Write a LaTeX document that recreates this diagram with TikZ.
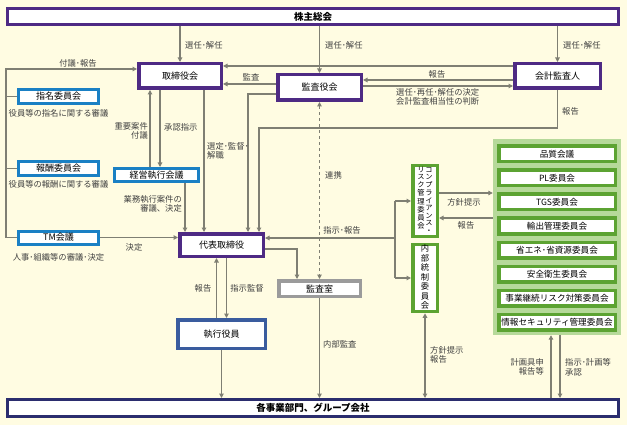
\documentclass[tikz,border=0pt]{standalone}
\usepackage{fontspec}
\setmainfont{Noto Sans CJK JP}
\newfontfamily\tatefont[RawFeature=+vert]{Noto Sans CJK JP}
\usetikzlibrary{arrows.meta}
\definecolor{bgc}{HTML}{FFFCE2}
\definecolor{purp}{HTML}{4E2A84}
\definecolor{cyanb}{HTML}{1A80C4}
\definecolor{syb}{HTML}{3A5C9E}
\definecolor{navy}{HTML}{2B2D6E}
\definecolor{grn}{HTML}{5CA332}
\definecolor{lgrn}{HTML}{B6D99A}
\definecolor{grayb}{HTML}{9B9B9B}
\definecolor{arr}{HTML}{7F7F73}
\definecolor{labc}{HTML}{404040}
\newcommand{\tatecol}[1]{\begin{tabular}[t]{@{}c@{}}#1\end{tabular}}
\begin{document}
\begin{tikzpicture}[x=1pt,y=-1pt,
  conn/.style={draw=arr, line width=1.1pt, -{Triangle[length=4.5pt,width=4.5pt]}},
  bconn/.style={draw=arr, line width=1.1pt, {Triangle[length=4.5pt,width=4.5pt]}-{Triangle[length=4.5pt,width=4.5pt]}},
  lab/.style={font=\fontsize{8.3}{9.8}\selectfont, text=labc, inner sep=0pt},
  bx/.style={draw, fill=white, inner sep=0pt, font=\fontsize{9}{10}\selectfont, text=black},
  pbox/.style={bx, draw=purp, line width=3.5pt},
  cbox/.style={bx, draw=cyanb, line width=3pt},
  gbox/.style={bx, draw=grn, line width=3.5pt, font=\fontsize{8.6}{10}\selectfont},
  sz/.style 2 args={minimum width=#1pt, minimum height=#2pt},
]
\fill[bgc] (0,0) rectangle (627,425);

% main boxes
\node[bx, draw=purp, line width=3pt, sz={611}{16}, font=\fontsize{9.5}{10}\selectfont\bfseries] (sh) at (313,16.5) {株主総会};
\node[pbox, sz={82.5}{24.5}] (tb) at (180,76) {取締役会};
\node[pbox, sz={83.5}{25.5}] (ka) at (319.5,87.5) {監査役会};
\node[pbox, sz={85.5}{24.5}] (kk) at (557.5,76) {会計監査人};
\node[pbox, sz={83.5}{22.5}] (dh) at (221.5,245) {代表取締役};
\node[bx, draw=grayb, line width=3.5pt, sz={81.5}{15.5}] (ks) at (319.5,288.5) {監査室};
\node[bx, draw=syb, line width=3.5pt, sz={87.5}{28.5}] (sy) at (221.5,334) {執行役員};
\node[bx, draw=navy, line width=3pt, sz={611}{17}, font=\fontsize{9.5}{10}\selectfont\bfseries] (kb) at (313,408) {各事業部門、グループ会社};

% blue committees
\node[cbox, sz={80}{14}] (sm) at (58.5,96.5) {指名委員会};
\node[cbox, sz={80}{14}] (hs) at (58.5,168.5) {報酬委員会};
\node[cbox, sz={80}{13}] (tm) at (58.5,237.5) {TM会議};
\node[cbox, sz={84}{13}] (kg) at (156.5,175) {経営執行会議};
\node[lab] (smL) at (58.5,113) {役員等の指名に関する審議};
\node[lab] (hsL) at (58.5,184) {役員等の報酬に関する審議};
\node[lab] (tmL) at (58.5,257) {人事･組織等の審議･決定};

% green vertical committees
\node[bx, draw=grn, line width=3.5pt, sz={24.5}{70.5}, font=\tatefont\fontsize{7.3}{7.45}\selectfont] (cr) at (425,201)
  {\tatecol{リ\\ス\\ク\\管\\理\\委\\員\\会}\hspace{0.8pt}\tatecol{コ\\ン\\プ\\ラ\\イ\\ア\\ン\\ス\\・}};
\node[bx, draw=grn, line width=3.5pt, sz={24.5}{66.5}, font=\tatefont\fontsize{8.3}{8.9}\selectfont] (nt) at (425,278)
  {\tatecol{内\\部\\統\\制\\委\\員\\会}};

% green group
\node[fill=lgrn, inner sep=0pt, sz={128}{196}] (grp) at (557,237) {};
\node[gbox, sz={116.5}{15.5}] (g1) at (557,154) {品質会議};
\node[gbox, sz={116.5}{15.5}] (g2) at (557,178) {PL委員会};
\node[gbox, sz={116.5}{15.5}] (g3) at (557,202) {TGS委員会};
\node[gbox, sz={116.5}{15.5}] (g4) at (557,226) {輸出管理委員会};
\node[gbox, sz={116.5}{15.5}] (g5) at (557,250) {省エネ･省資源委員会};
\node[gbox, sz={116.5}{15.5}] (g6) at (557,274) {安全衛生委員会};
\node[gbox, sz={116.5}{15.5}] (g7) at (557,298) {事業継続リスク対策委員会};
\node[gbox, sz={116.5}{15.5}] (g8) at (557,322) {情報セキュリティ管理委員会};

% helper coordinates
\coordinate (L1) at (6,69);
\coordinate (xa) at (204,0);
\coordinate (x150) at (150,0);
\coordinate (x160) at (160,0);
\coordinate (x185) at (185,0);
\coordinate (x216) at (216.5,0);
\coordinate (x226) at (226.5,0);
\coordinate (x551) at (551,0);
\coordinate (x560) at (560,0);
\coordinate (k1) at (248,94);
\coordinate (k2) at (259,128);
\coordinate (k3) at (297,249);
\coordinate (br) at (395,238);
\coordinate (y66) at (0,66);
\coordinate (y80) at (0,80);
\coordinate (y84) at (0,84);
\coordinate (y86) at (0,86);
\coordinate (y193) at (0,193);
\coordinate (y218) at (0,218);

% shareholders
\draw[conn] (tb.north |- sh.south) -- (tb.north);
\draw[conn] (ka.north |- sh.south) -- (ka.north);
\draw[conn] (kk.north |- sh.south) -- (kk.north);
\node[lab, anchor=west] at (185,45) {選任･解任};
\node[lab, anchor=west] at (325,45) {選任･解任};
\node[lab, anchor=west] at (563,45) {選任･解任};

% left bus
\draw[conn] (tm.west) -| (L1) -- (L1 -| tb.west);
\draw[draw=arr, line width=1.1pt] (sm.west) -- (sm.west -| L1);
\draw[draw=arr, line width=1.1pt] (hs.west) -- (hs.west -| L1);
\node[lab] at (78,63) {付議･報告};

% auditors
\draw[conn] (kk.west |- y66) -- (tb.east |- y66);
\draw[conn] (kk.west |- y80) -- (ka.east |- y80);
\draw[conn] (ka.east |- y86) -- (kk.west |- y86);
\draw[conn] (ka.west |- y84) -- (tb.east |- y84);
\node[lab] at (251,77) {監査};
\node[lab] at (437,74) {報告};
\node[lab, anchor=north west, align=left] at (396,88) {選任･再任･解任の決定\\会計監査相当性の判断};
\draw[conn] (ka.west |- k1) -- (k1) -- (k1 |- dh.north);
\draw[conn] (kk.south) -- (kk.south |- k2) -- (k2) -- (k2 |- dh.north);
\node[lab, anchor=west] at (562,111) {報告};

% board to representative
\draw[conn] (tb.south -| xa) -- (dh.north -| xa);
\node[lab, anchor=north west, align=left] at (207,142) {選定･監督･\\解職};
\draw[conn] (kg.north -| x150) -- (tb.south -| x150);
\draw[conn] (tb.south -| x160) -- (kg.north -| x160);
\node[lab, anchor=north east, align=right] at (148,122) {重要案件\\付議};
\node[lab, anchor=west] at (164,127) {承認指示};
\draw[conn] (kg.south -| x185) -- (dh.north -| x185);
\node[lab, anchor=north east, align=right] at (182,195) {業務執行案件の\\審議、決定};
\draw[conn] (tm.east) -- (dh.west |- tm.east);
\node[lab] at (134,247) {決定};

% representative to committees
\draw[conn] (br) -- (dh.east |- br);
\draw[draw=arr, line width=1.1pt] (br |- cr.west) -- (br |- nt.west);
\draw[conn] (br |- cr.west) -- (cr.west);
\draw[conn] (br |- nt.west) -- (nt.west);
\node[lab] at (342,230) {指示･報告};

% audit office
\draw[conn] (dh.east |- k3) -- (k3) -- (k3 |- ks.north);
\draw[bconn, dashed] (ka.south) -- (ks.north);
\node[lab, anchor=west] at (325,175) {連携};
\draw[conn] (ks.south) -- (kb.north -| ks.south);
\node[lab, anchor=west] at (323,344) {内部監査};

% executive officers
\draw[conn] (sy.north -| x216) -- (dh.south -| x216);
\draw[conn] (dh.south -| x226) -- (sy.north -| x226);
\node[lab] at (203,288) {報告};
\node[lab] at (247,288) {指示監督};
\draw[conn] (sy.south) -- (kb.north -| sy.south);

% compliance and group
\draw[conn] (cr.east |- y193) -- (grp.west |- y193);
\draw[conn] (grp.west |- y218) -- (cr.east |- y218);
\node[lab] at (464,202) {方針提示};
\node[lab] at (466,225) {報告};
\draw[bconn] (nt.south) -- (nt.south |- kb.north);
\node[lab, anchor=north west, align=left] at (430,346) {方針提示\\報告};
\draw[conn] (kb.north -| x551) -- (grp.south -| x551);
\draw[conn] (grp.south -| x560) -- (kb.north -| x560);
\node[lab, anchor=north east, align=right] at (544,358) {計画具申\\報告等};
\node[lab, anchor=north west, align=left] at (565,358) {指示･計画等\\承認};
\end{tikzpicture}
\end{document}
